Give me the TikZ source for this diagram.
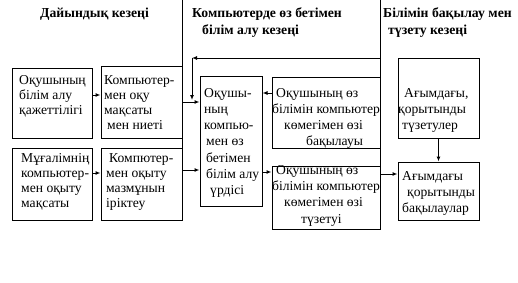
\documentclass[tikz,border=0pt]{standalone}
\usepackage{fontspec}
\setmainfont{Liberation Serif}
\usetikzlibrary{arrows.meta}
\begin{document}
\begin{tikzpicture}[x=1pt,y=-1pt,
  box/.style={draw,line width=1pt,inner sep=0,rectangle},
  txt/.style={anchor=base west,inner sep=0,align=left,font=\fontsize{13.6}{15}\selectfont},
  txtw/.style={anchor=base west,inner sep=0,align=left,font=\fontsize{13.6}{16.3}\selectfont},
  head/.style={anchor=base west,inner sep=0,font=\fontsize{13.7}{17}\selectfont\bfseries},
  arr/.style={line width=1pt,-{Latex[length=5pt,width=4pt]}},
  ln/.style={line width=1pt}]
\useasboundingbox (0,0) rectangle (518,282);
% boxes
\node[box,minimum width=80pt,minimum height=70pt] (A) at (52,103) {};
\node[box,minimum width=81pt,minimum height=72pt] (B) at (141.5,102) {};
\node[box,minimum width=80pt,minimum height=72pt] (C) at (52,184) {};
\node[box,minimum width=81pt,minimum height=72pt] (D) at (141.5,184) {};
\node[box,minimum width=62pt,minimum height=130pt] (M) at (231,141) {};
\node[box,minimum width=108pt,minimum height=71pt] (K4) at (326,112.5) {};
\node[box,minimum width=108pt,minimum height=63pt] (K5) at (326,197.5) {};
\node[box,minimum width=81pt,minimum height=80pt] (R6) at (438.5,98) {};
\node[box,minimum width=81pt,minimum height=58pt] (R7) at (438.5,191) {};
% texts (anchor = baseline of last line)
\node[txt] (tA) at (19,114) {Оқушының\\білім алу\\қажеттілігі};
\node[txt] (tB) at (104,129) {Компьютер-\\мен оқу\\мақсаты\\\hspace*{3pt}мен ниеті};
\node[txt] (tC) at (21,207) {Мұғалімнің\\компьютер-\\мен оқыту\\мақсаты};
\node[txt] (tD) at (106,207) {\hspace*{3pt}Компютер-\\мен оқыту\\мазмұнын\\іріктеу};
\node[txtw] (tM) at (204,194.8) {Оқушы-\\ның\\компью-\\\hspace*{2pt}мен өз\\\hspace*{2pt}бетімен\\\hspace*{2pt}білім алу\\\hspace*{6pt}үрдісі};
\node[txtw] (t4) at (272,145.9) {\hspace*{4pt}Оқушының өз\\білімін компьютер\\\hspace*{12pt}көмегімен өзі\\\hspace*{34pt}бақылауы};
\node[txtw] (t5) at (272,223) {\hspace*{4pt}Оқушының өз\\білімін компьютер\\\hspace*{12pt}көмегімен өзі\\\hspace*{29pt}түзетуі};
\node[txtw] (t6) at (398,129.6) {\hspace*{6pt}Ағымдағы,\\қорытынды\\\hspace*{4pt}түзетулер};
\node[txtw] (t7) at (402,212.6) {Ағымдағы\\\hspace*{5pt}қорытынды\\бақылаулар};
% headers
\node[head] (h1) at (40,17) {Дайындық кезеңі};
\node[head] (h2a) at (192,17) {Компьютерде өз бетімен};
\node[head] (h2b) at (202,34) {білім алу кезеңі};
\node[head] (h3a) at (383,17) {Білімін бақылау мен};
\node[head] (h3b) at (388,34) {түзету кезеңі};
% dividers
\coordinate (d1t) at (182,0);
\coordinate (d1b) at (182,148);
\coordinate (d2t) at (380,0);
\coordinate (d2b) at (380,166);
\draw[ln] (d1t) -- (d1b);
\draw[ln] (d2t) -- (d2b);
% feedback
\coordinate (fbR) at (380,58);
\coordinate (fbL) at (192,58);
\coordinate (fbD) at (192,100);
\draw[arr] (fbR) -- (fbL);
\draw[arr] (fbL) -- (fbD);
% arrows
\draw[arr] (A.east |- 0,95) -- (B.west |- 0,95);
\draw[arr] (B.east |- 0,102) -- (M.west |- 0,102);
\draw[arr] (C.east |- 0,173) -- (D.west |- 0,173);
\draw[arr] (D.east |- 0,170) -- (M.west |- 0,170);
\draw[arr] (K4.west |- 0,93) -- (M.east |- 0,93);
\draw[arr] (M.east |- 0,172) -- (K5.west |- 0,172);
\draw[arr] (R6.south) -- (R7.north);
\draw[arr] (K5.east |- 0,174) -- (R7.west |- 0,174);
\end{tikzpicture}
\end{document}
